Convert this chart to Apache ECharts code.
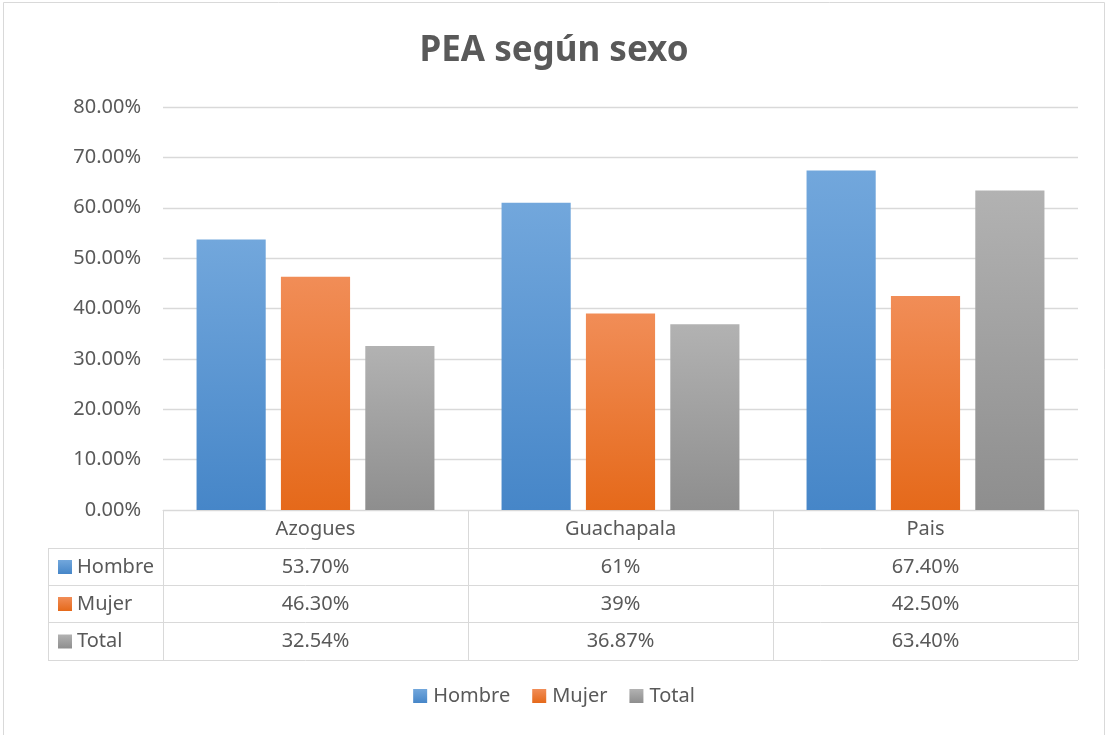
<!DOCTYPE html>
<html>
<head>
<meta charset="utf-8">
<script src="https://cdn.jsdelivr.net/npm/echarts@6/dist/echarts.min.js"></script>
<style>
html,body{margin:0;padding:0;background:#fff;}
#c{width:1108px;height:735px;}
</style>
</head>
<body>
<div id="c"></div>
<script>
var categories = ['Azogues', 'Guachapala', 'Pais'];
var hombre = [53.70, 61, 67.40];
var mujer = [46.30, 39, 42.50];
var total = [32.54, 36.87, 63.40];
var seriesNames = ['Hombre', 'Mujer', 'Total'];
var yTicks = [0, 10, 20, 30, 40, 50, 60, 70, 80];

var FONT = '"Noto Sans", "Open Sans", sans-serif';
var TXT = '#595959';
var LINE = '#d9d9d9';

function grad(top, bottom) {
  return new echarts.graphic.LinearGradient(0, 0, 0, 1, [
    { offset: 0, color: top }, { offset: 1, color: bottom }
  ]);
}
var colors = [
  ['#72a7dc', '#4686c8'],
  ['#f18d57', '#e5691a'],
  ['#b2b2b2', '#8e8e8e']
];
function fmt(v) {
  return (Number.isInteger(v) ? String(v) : v.toFixed(2)) + '%';
}

var chart = echarts.init(document.getElementById('c'), null, { renderer: 'canvas' });

var dataSets = [hombre, mujer, total];
var series = dataSets.map(function (d, i) {
  return {
    name: seriesNames[i],
    type: 'bar',
    data: d,
    barGap: '22%',
    barCategoryGap: '22%',
    itemStyle: {
      color: grad(colors[i][0], colors[i][1]),
      shadowBlur: 6,
      shadowColor: 'rgba(0,0,0,0.28)',
      shadowOffsetX: 1,
      shadowOffsetY: 1
    },
    emphasis: { disabled: true }
  };
});

var option = {
  backgroundColor: '#fff',
  animation: false,
  title: {
    text: 'PEA según sexo',
    left: 'center',
    top: 29,
    textStyle: { fontFamily: FONT, fontSize: 35, fontWeight: 'bold', color: TXT }
  },
  legend: {
    bottom: 24,
    left: 'center',
    itemWidth: 14,
    itemHeight: 14,
    itemGap: 22,
    icon: 'rect',
    textStyle: { fontFamily: FONT, fontSize: 20, color: TXT, padding: [0, 0, 0, 1] },
    data: seriesNames.map(function (n, i) {
      return { name: n, itemStyle: { color: grad(colors[i][0], colors[i][1]) } };
    })
  },
  grid: { left: 163, right: 30, top: 107, bottom: 225, containLabel: false },
  xAxis: {
    type: 'category',
    data: categories,
    axisLine: { show: true, lineStyle: { color: LINE, width: 1 } },
    axisTick: { show: true, length: 150, lineStyle: { color: LINE, width: 1 } },
    axisLabel: { margin: 9, fontFamily: FONT, fontSize: 20, color: TXT }
  },
  yAxis: {
    type: 'value',
    min: yTicks[0],
    max: yTicks[yTicks.length - 1],
    interval: yTicks[1] - yTicks[0],
    axisLine: { show: false },
    axisTick: { show: false },
    splitLine: { lineStyle: { color: LINE, width: 1.3 } },
    axisLabel: {
      margin: 22,
      fontFamily: FONT,
      fontSize: 20,
      color: TXT,
      formatter: function (v) { return v.toFixed(2) + '%'; }
    }
  },
  series: series
};
chart.setOption(option);

// Build data table beneath the plot
var gridLeft = 163, gridRight = 1078, axisY = 510;
var tableLeft = 48;
var rowLines = [548, 585, 622, 660];
var graphics = [];
// outer chart border
graphics.push({
  type: 'rect', silent: true,
  shape: { x: 3.5, y: 2.5, width: 1101, height: 740 },
  style: { fill: 'none', stroke: LINE, lineWidth: 1 }
});
rowLines.forEach(function (y) {
  graphics.push({
    type: 'line', silent: true,
    shape: { x1: tableLeft, y1: y + 0.5, x2: gridRight, y2: y + 0.5 },
    style: { stroke: LINE, lineWidth: 1 }
  });
});
graphics.push({
  type: 'line', silent: true,
  shape: { x1: tableLeft + 0.5, y1: rowLines[0], x2: tableLeft + 0.5, y2: rowLines[rowLines.length - 1] + 1 },
  style: { stroke: LINE, lineWidth: 1 }
});
for (var r = 0; r < 3; r++) {
  var cy = (rowLines[r] + rowLines[r + 1]) / 2 + 0.5;
  graphics.push({
    type: 'rect', silent: true,
    shape: { x: 58, y: cy - 7, width: 14, height: 14 },
    style: { fill: grad(colors[r][0], colors[r][1]) }
  });
  graphics.push({
    type: 'text', silent: true,
    x: 77, y: cy,
    style: { text: seriesNames[r], font: '20px ' + FONT, fill: TXT, textAlign: 'left', textVerticalAlign: 'middle' }
  });
  for (var c = 0; c < categories.length; c++) {
    var cx = chart.convertToPixel({ xAxisIndex: 0 }, categories[c]);
    graphics.push({
      type: 'text', silent: true,
      x: cx, y: cy,
      style: { text: fmt(dataSets[r][c]), font: '20px ' + FONT, fill: TXT, textAlign: 'center', textVerticalAlign: 'middle' }
    });
  }
}
chart.setOption({ graphic: graphics });
</script>
</body>
</html>
